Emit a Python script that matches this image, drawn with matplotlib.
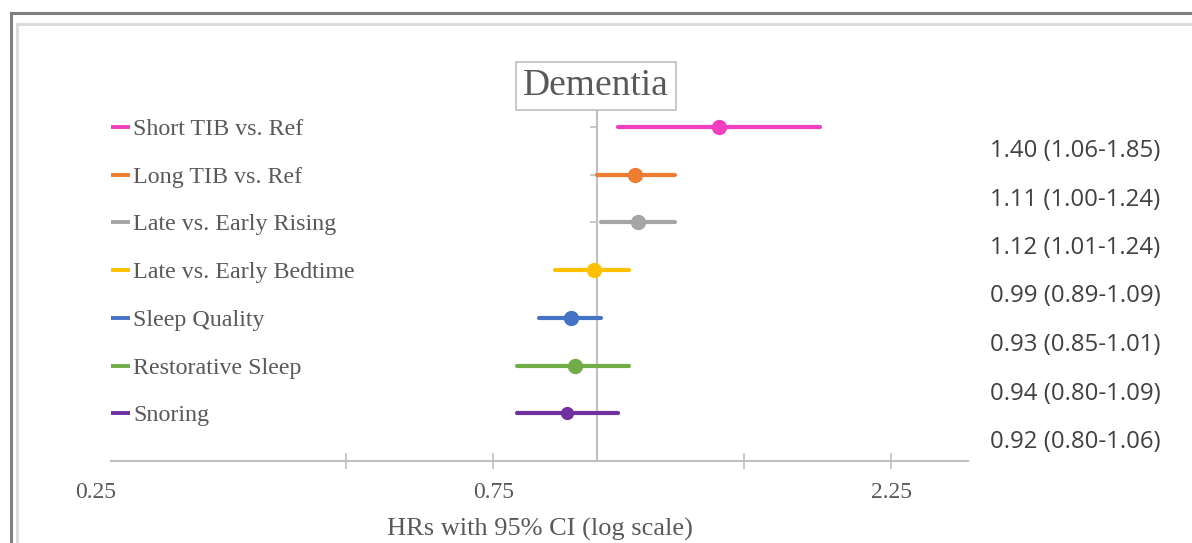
import matplotlib
matplotlib.use("Agg")
import matplotlib.pyplot as plt
from matplotlib.lines import Line2D
from matplotlib.transforms import blended_transform_factory, offset_copy
import numpy as np

# ---- data ----
labels = ["Short TIB vs. Ref", "Long TIB vs. Ref", "Late vs. Early Rising",
          "Late vs. Early Bedtime", "Sleep Quality", "Restorative Sleep", "Snoring"]
hr = [1.40, 1.11, 1.12, 0.99, 0.93, 0.94, 0.92]
lo = [1.06, 1.00, 1.01, 0.89, 0.85, 0.80, 0.80]
hi = [1.85, 1.24, 1.24, 1.09, 1.01, 1.09, 1.06]
colors = ["#F23EC0", "#ED7D31", "#A5A5A5", "#FFC000", "#4472C4", "#70AD47", "#7030A0"]
marker_sizes = [10, 10, 10, 10, 10, 10, 8.5]
tick_vals = [0.5, 0.75, 1.5, 2.25]
tick_labels = ["", "0.75", "", "2.25"]
first_tick_label = "0.25"
title = "Dementia"
xlabel = "HRs with 95% CI (log scale)"

W, H = 1192, 543
fig = plt.figure(figsize=(W / 100, H / 100), dpi=100)
fig.patch.set_facecolor("white")

# frame borders (cut by the figure edge on right/bottom)
def px_line(xs, ys, color, lw):
    fig.add_artist(Line2D([x / W for x in xs], [1 - y / H for y in ys],
                          transform=fig.transFigure, color=color, lw=lw))

px_line([10.5, 10.5], [12.5, H + 5], "#7F7F7F", 2.2)
px_line([10.5, W + 5], [12.5, 12.5], "#7F7F7F", 2.2)
px_line([17, 17], [23.5, H + 5], "#D9D9D9", 2.0)
px_line([17, W + 5], [23.5, 23.5], "#D9D9D9", 2.0)

left, right = 111 / W, 968 / W
bottom, top = (H - 461) / H, (H - 79.4) / H
ax = fig.add_axes([left, bottom, right - left, top - bottom])
ax.set_xscale("log")
ax.set_xlim(0.261, 2.783)
ax.set_ylim(0, 8)

n = len(labels)
ypos = np.arange(n, 0, -1)

for y, h, l, u, c, ms in zip(ypos, hr, lo, hi, colors, marker_sizes):
    ax.plot([l, u], [y, y], color=c, lw=3.0, solid_capstyle="round", zorder=3)
    ax.plot([h], [y], "o", color=c, ms=ms, zorder=4)

# spines
for s in ["top", "right"]:
    ax.spines[s].set_visible(False)
ax.spines["left"].set_position(("data", 1.0))
ax.spines["left"].set_color("#BFBFBF")
ax.spines["left"].set_linewidth(1.5)
ax.spines["left"].set_zorder(2)
ax.spines["bottom"].set_color("#BFBFBF")
ax.spines["bottom"].set_linewidth(1.5)

ax.set_yticks(ypos)
ax.set_yticklabels([])
ax.tick_params(axis="y", direction="out", length=5, width=1.2, color="#BFBFBF")

ax.set_xticks(tick_vals)
ax.set_xticklabels(tick_labels)
ax.xaxis.set_minor_locator(matplotlib.ticker.NullLocator())
ax.tick_params(axis="x", direction="inout", length=11, width=1.2, color="#BFBFBF",
               labelcolor="#595959", labelsize=17, pad=9.5)
for t in ax.get_xticklabels():
    t.set_fontfamily("Liberation Serif")

trans_x = blended_transform_factory(ax.transData, ax.transAxes)
ax.text(0.25, -31 / 381.6, first_tick_label, transform=trans_x, ha="center", va="center",
        fontsize=17, color="#595959", family="Liberation Serif", clip_on=False)

ax.set_xlabel(xlabel, fontsize=19, color="#595959", family="Liberation Serif", labelpad=11)

# left labels with colored dash
trans_l = blended_transform_factory(ax.transAxes, ax.transData)
trans_lt = offset_copy(trans_l, fig=fig, x=0, y=-2.5, units="dots")
for y, lab, c in zip(ypos, labels, colors):
    ax.plot([0.0, 19 / (968 - 111)], [y, y], transform=trans_l, color=c, lw=2.8,
            solid_capstyle="butt", clip_on=False)
    ax.text(22 / (968 - 111), y, lab, transform=trans_lt, ha="left", va="center",
            fontsize=17.3, color="#595959", family="Liberation Serif")

# right value labels (a separate text column, evenly spaced)
col_x, col_y0, col_dy = 1075, 151, 48.5
for i, (h, l, u) in enumerate(zip(hr, lo, hi)):
    fig.text(col_x / W, 1 - (col_y0 + i * col_dy) / H, f"{h:.2f} ({l:.2f}-{u:.2f})",
             ha="center", va="center", fontsize=17.3, color="#404040", family="Open Sans")

# title box
fig.text(596 / W, 1 - 86 / H, title, ha="center", va="center", fontsize=27,
         color="#595959", family="Liberation Serif", zorder=10,
         bbox=dict(boxstyle="square,pad=0.19", facecolor="white", edgecolor="#BFBFBF", lw=1.2))

fig.savefig("out.png", dpi=100, facecolor="white")
